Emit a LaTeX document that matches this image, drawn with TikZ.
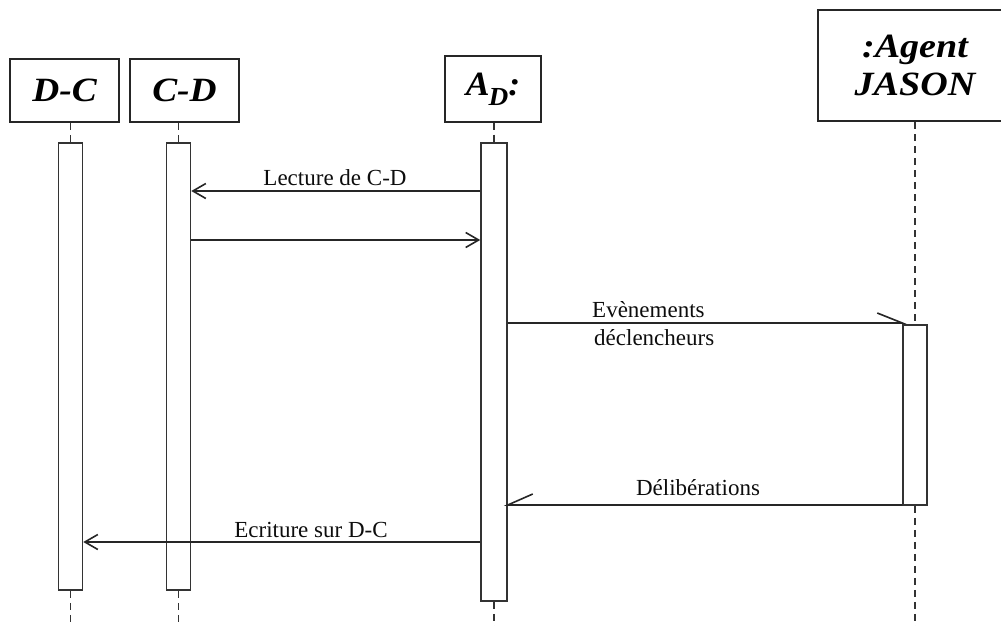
\documentclass[tikz,border=0pt]{standalone}
\usepackage{fontspec}
\setmainfont{Liberation Serif}
\usetikzlibrary{arrows.meta}
\begin{document}
\begin{tikzpicture}[x=1pt,y=-1pt,
  obj/.style={draw=black!85, line width=2pt, inner sep=0pt, align=center,
    font=\bfseries\itshape\fontsize{34}{38}\selectfont},
  bar/.style={draw=black!80, line width=1.5pt, minimum width=24pt, inner sep=0pt, fill=white},
  life/.style={draw=black!80, line width=1.6pt, dash pattern=on 7pt off 5pt},
  msg/.style={draw=black!85, line width=1.6pt, -{Straight Barb[length=13pt,width=15pt,line width=1.6pt]}},
  plain/.style={draw=black!85, line width=1.6pt},
  lbl/.style={font=\fontsize{23}{28}\selectfont, inner sep=0pt, text=black!95}
]
\useasboundingbox (0,0) rectangle (1001,626);

% object boxes
\node[obj, minimum width=109pt, minimum height=63pt] (DC) at (64.5,90.5) {\scalebox{1.1}[1]{D-C}};
\node[obj, minimum width=109pt, minimum height=63pt] (CD) at (184.5,90.5) {\scalebox{1.1}[1]{C-D}};
\node[obj, minimum width=96pt, minimum height=65pt] (AD) at (493,89)
  {\scalebox{1.05}[1]{A\kern-1pt\raisebox{-10pt}{\fontsize{26}{26}\selectfont D}:}};
\node[obj, minimum width=194pt, minimum height=111pt] (AJ) at (915,65.5)
  {\scalebox{1.12}[1]{:Agent}\\\scalebox{1.12}[1]{JASON}};

% activation bars
\node[bar, minimum height=447pt] (bDC) at (70.5,366.5) {};
\node[bar, minimum height=447pt] (bCD) at (178.5,366.5) {};
\node[bar, minimum width=26pt, minimum height=458pt] (bAD) at (494,372) {};
\node[bar, minimum height=180pt] (bAJ) at (915,415) {};

% lifeline ends
\coordinate (eDC) at (70.5,626);
\coordinate (eCD) at (178.5,626);
\coordinate (eAD) at (494,626);
\coordinate (eAJ) at (915,626);

% lifelines
\draw[life] (DC.south -| bDC.north) -- (bDC.north);
\draw[life] (bDC.south) -- (eDC);
\draw[life] (CD.south -| bCD.north) -- (bCD.north);
\draw[life] (bCD.south) -- (eCD);
\draw[life] (AD.south -| bAD.north) -- (bAD.north);
\draw[life] (bAD.south) -- (eAD);
\draw[life] (AJ.south -| bAJ.north) -- (bAJ.north);
\draw[life] (bAJ.south) -- (eAJ);

% messages
\draw[msg] (bAD.west |- 0,191) -- (bCD.east |- 0,191);
\node[lbl, anchor=base] (l1) at (335,185) {Lecture de C-D};

\draw[msg] (bCD.east |- 0,240) -- (bAD.west |- 0,240);

\draw[plain] (bAD.east |- 0,323) -- (bAJ.west |- 0,323) -- ++(-25,-10);
\node[lbl, anchor=base west] (l2) at (592,317) {Evènements};
\node[lbl, anchor=base west] (l3) at (594,345) {déclencheurs};

\draw[plain] (bAJ.west |- 0,505) -- (bAD.east |- 0,505) -- ++(25,-11);
\node[lbl, anchor=base] (l4) at (698,495) {Délibérations};

\draw[msg] (bAD.west |- 0,542) -- (bDC.east |- 0,542);
\node[lbl, anchor=base] (l5) at (311,537) {Ecriture sur D-C};
\end{tikzpicture}
\end{document}
